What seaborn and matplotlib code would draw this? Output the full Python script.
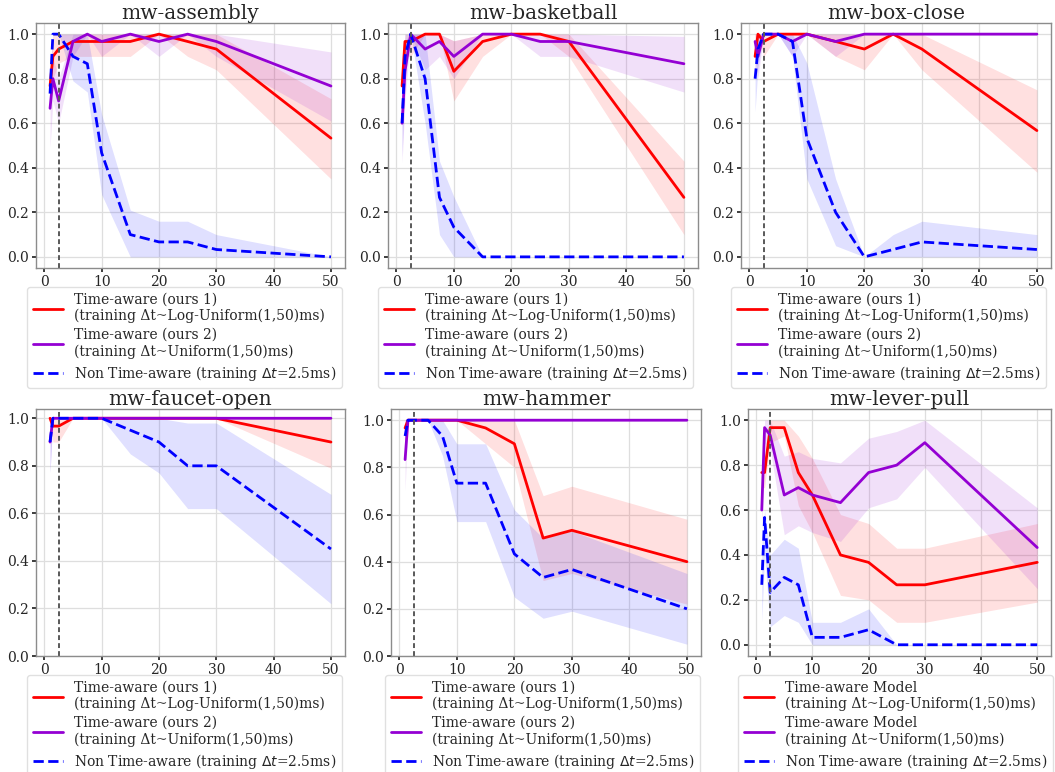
import matplotlib
matplotlib.use("Agg")
import matplotlib.pyplot as plt
import seaborn as sns
import numpy as np

# ---------------- data ----------------
dt = [1, 1.5, 2.5, 5, 7.5, 10, 15, 20, 25, 30, 50]
train_dt = 2.5

tasks = ["mw-assembly", "mw-basketball", "mw-box-close",
         "mw-faucet-open", "mw-hammer", "mw-lever-pull"]

# mw-assembly
assembly_log    = [0.767, 0.9, 0.933, 0.967, 0.967, 0.967, 0.967, 1.0, 0.967, 0.933, 0.533]
assembly_log_lo = [0.70, 0.80, 0.87, 0.90, 0.90, 0.90, 0.90, 1.0, 0.90, 0.84, 0.35]
assembly_log_hi = [0.83, 1.0, 1.0, 1.0, 1.0, 1.0, 1.0, 1.0, 1.0, 1.0, 0.71]
assembly_uni    = [0.667, 0.8, 0.7, 0.967, 1.0, 0.967, 1.0, 0.967, 1.0, 0.967, 0.767]
assembly_uni_lo = [0.49, 0.70, 0.60, 0.90, 1.0, 0.90, 1.0, 0.90, 1.0, 0.90, 0.61]
assembly_uni_hi = [0.80, 0.90, 0.80, 1.0, 1.0, 1.0, 1.0, 1.0, 1.0, 1.0, 0.92]
assembly_nta    = [0.733, 1.0, 1.0, 0.9, 0.867, 0.467, 0.1, 0.067, 0.067, 0.033, 0.0]
assembly_nta_lo = [0.65, 1.0, 1.0, 0.79, 0.74, 0.28, 0.0, 0.0, 0.0, 0.0, 0.0]
assembly_nta_hi = [0.83, 1.0, 1.0, 1.0, 1.0, 0.64, 0.21, 0.16, 0.16, 0.10, 0.0]

# mw-basketball
basketball_log    = [0.767, 0.967, 0.967, 1.0, 1.0, 0.833, 0.967, 1.0, 1.0, 0.967, 0.267]
basketball_log_lo = [0.70, 0.90, 0.90, 1.0, 1.0, 0.70, 0.90, 1.0, 1.0, 0.90, 0.10]
basketball_log_hi = [0.83, 1.0, 1.0, 1.0, 1.0, 0.97, 1.0, 1.0, 1.0, 1.0, 0.43]
basketball_uni    = [0.6, 0.833, 1.0, 0.933, 0.967, 0.9, 1.0, 1.0, 0.967, 0.967, 0.867]
basketball_uni_lo = [0.42, 0.70, 1.0, 0.84, 0.90, 0.80, 1.0, 1.0, 0.90, 0.90, 0.74]
basketball_uni_hi = [0.78, 0.97, 1.0, 1.0, 1.0, 0.97, 1.0, 1.0, 1.0, 1.0, 0.99]
basketball_nta    = [0.6, 0.9, 1.0, 0.8, 0.267, 0.133, 0.0, 0.0, 0.0, 0.0, 0.0]
basketball_nta_lo = [0.45, 0.80, 1.0, 0.60, 0.10, 0.0, 0.0, 0.0, 0.0, 0.0, 0.0]
basketball_nta_hi = [0.75, 1.0, 1.0, 1.0, 0.43, 0.27, 0.0, 0.0, 0.0, 0.0, 0.0]

# mw-box-close
boxclose_log    = [0.9, 1.0, 0.967, 1.0, 1.0, 1.0, 0.967, 0.933, 1.0, 0.933, 0.567]
boxclose_log_lo = [0.80, 1.0, 0.90, 1.0, 1.0, 1.0, 0.90, 0.84, 1.0, 0.84, 0.38]
boxclose_log_hi = [1.0, 1.0, 1.0, 1.0, 1.0, 1.0, 1.0, 1.0, 1.0, 1.0, 0.75]
boxclose_uni    = [0.967, 0.9, 1.0, 1.0, 0.967, 1.0, 0.967, 1.0, 1.0, 1.0, 1.0]
boxclose_uni_lo = [0.90, 0.80, 1.0, 1.0, 0.90, 1.0, 0.90, 1.0, 1.0, 1.0, 1.0]
boxclose_uni_hi = [1.0, 1.0, 1.0, 1.0, 1.0, 1.0, 1.0, 1.0, 1.0, 1.0, 1.0]
boxclose_nta    = [0.8, 0.933, 1.0, 1.0, 0.967, 0.533, 0.2, 0.0, 0.033, 0.067, 0.033]
boxclose_nta_lo = [0.65, 0.85, 1.0, 1.0, 0.90, 0.35, 0.05, 0.0, 0.0, 0.0, 0.0]
boxclose_nta_hi = [0.95, 1.0, 1.0, 1.0, 1.0, 0.87, 0.35, 0.0, 0.10, 0.16, 0.10]

# mw-faucet-open
faucet_log    = [1.0, 0.967, 0.967, 1.0, 1.0, 1.0, 1.0, 1.0, 1.0, 1.0, 0.9]
faucet_log_lo = [1.0, 0.90, 0.90, 1.0, 1.0, 1.0, 1.0, 1.0, 1.0, 1.0, 0.79]
faucet_log_hi = [1.0, 1.0, 1.0, 1.0, 1.0, 1.0, 1.0, 1.0, 1.0, 1.0, 1.0]
faucet_uni    = [0.9, 1.0, 1.0, 1.0, 1.0, 1.0, 1.0, 1.0, 1.0, 1.0, 1.0]
faucet_uni_lo = [0.77, 1.0, 1.0, 1.0, 1.0, 1.0, 1.0, 1.0, 1.0, 1.0, 1.0]
faucet_uni_hi = [1.0, 1.0, 1.0, 1.0, 1.0, 1.0, 1.0, 1.0, 1.0, 1.0, 1.0]
faucet_nta    = [0.9, 1.0, 1.0, 1.0, 1.0, 1.0, 0.95, 0.9, 0.8, 0.8, 0.45]
faucet_nta_lo = [0.77, 1.0, 1.0, 1.0, 1.0, 1.0, 0.85, 0.77, 0.62, 0.62, 0.22]
faucet_nta_hi = [1.0, 1.0, 1.0, 1.0, 1.0, 1.0, 1.0, 1.0, 0.98, 0.98, 0.68]

# mw-hammer
hammer_log    = [0.967, 1.0, 1.0, 1.0, 1.0, 1.0, 0.967, 0.9, 0.5, 0.533, 0.4]
hammer_log_lo = [0.90, 1.0, 1.0, 1.0, 1.0, 1.0, 0.90, 0.80, 0.32, 0.35, 0.22]
hammer_log_hi = [1.0, 1.0, 1.0, 1.0, 1.0, 1.0, 1.0, 1.0, 0.68, 0.72, 0.58]
hammer_uni    = [0.833, 1.0, 1.0, 1.0, 1.0, 1.0, 1.0, 1.0, 1.0, 1.0, 1.0]
hammer_uni_lo = [0.70, 1.0, 1.0, 1.0, 1.0, 1.0, 1.0, 1.0, 1.0, 1.0, 1.0]
hammer_uni_hi = [0.97, 1.0, 1.0, 1.0, 1.0, 1.0, 1.0, 1.0, 1.0, 1.0, 1.0]
hammer_nta    = [0.933, 1.0, 1.0, 1.0, 0.933, 0.733, 0.733, 0.433, 0.333, 0.367, 0.2]
hammer_nta_lo = [0.85, 1.0, 1.0, 1.0, 0.85, 0.57, 0.57, 0.25, 0.16, 0.19, 0.05]
hammer_nta_hi = [1.0, 1.0, 1.0, 1.0, 1.0, 0.90, 0.90, 0.62, 0.50, 0.53, 0.35]

# mw-lever-pull
lever_log    = [0.767, 0.767, 0.967, 0.967, 0.767, 0.667, 0.4, 0.367, 0.267, 0.267, 0.367]
lever_log_lo = [0.70, 0.70, 0.90, 0.93, 0.62, 0.50, 0.22, 0.20, 0.10, 0.10, 0.19]
lever_log_hi = [0.83, 0.83, 1.0, 1.0, 0.93, 0.83, 0.58, 0.54, 0.43, 0.43, 0.54]
lever_uni    = [0.6, 0.967, 0.933, 0.667, 0.7, 0.667, 0.633, 0.767, 0.8, 0.9, 0.433]
lever_uni_lo = [0.50, 0.90, 0.87, 0.49, 0.53, 0.50, 0.46, 0.61, 0.65, 0.79, 0.25]
lever_uni_hi = [0.70, 1.0, 1.0, 0.84, 0.86, 0.83, 0.81, 0.92, 0.95, 1.0, 0.61]
lever_nta    = [0.267, 0.567, 0.233, 0.3, 0.267, 0.033, 0.033, 0.067, 0.0, 0.0, 0.0]
lever_nta_lo = [0.10, 0.40, 0.08, 0.13, 0.10, 0.0, 0.0, 0.0, 0.0, 0.0, 0.0]
lever_nta_hi = [0.45, 0.60, 0.40, 0.47, 0.43, 0.10, 0.10, 0.16, 0.0, 0.0, 0.0]

series = {
    "mw-assembly": [(assembly_log, assembly_log_lo, assembly_log_hi),
                    (assembly_uni, assembly_uni_lo, assembly_uni_hi),
                    (assembly_nta, assembly_nta_lo, assembly_nta_hi)],
    "mw-basketball": [(basketball_log, basketball_log_lo, basketball_log_hi),
                      (basketball_uni, basketball_uni_lo, basketball_uni_hi),
                      (basketball_nta, basketball_nta_lo, basketball_nta_hi)],
    "mw-box-close": [(boxclose_log, boxclose_log_lo, boxclose_log_hi),
                     (boxclose_uni, boxclose_uni_lo, boxclose_uni_hi),
                     (boxclose_nta, boxclose_nta_lo, boxclose_nta_hi)],
    "mw-faucet-open": [(faucet_log, faucet_log_lo, faucet_log_hi),
                       (faucet_uni, faucet_uni_lo, faucet_uni_hi),
                       (faucet_nta, faucet_nta_lo, faucet_nta_hi)],
    "mw-hammer": [(hammer_log, hammer_log_lo, hammer_log_hi),
                  (hammer_uni, hammer_uni_lo, hammer_uni_hi),
                  (hammer_nta, hammer_nta_lo, hammer_nta_hi)],
    "mw-lever-pull": [(lever_log, lever_log_lo, lever_log_hi),
                      (lever_uni, lever_uni_lo, lever_uni_hi),
                      (lever_nta, lever_nta_lo, lever_nta_hi)],
}

labels_ours = ["Time-aware (ours 1)\n(training Δt~Log-Uniform(1,50)ms)",
               "Time-aware (ours 2)\n(training Δt~Uniform(1,50)ms)",
               "Non Time-aware (training $\\Delta t$=2.5ms)"]
labels_model = ["Time-aware Model\n(training Δt~Log-Uniform(1,50)ms)",
                "Time-aware Model\n(training Δt~Uniform(1,50)ms)",
                "Non Time-aware (training $\\Delta t$=2.5ms)"]

# ---------------- style ----------------
sns.set_theme(style="whitegrid", rc={
    "axes.edgecolor": "0.55",
    "axes.linewidth": 1.0,
    "grid.color": "0.87",
    "grid.linewidth": 0.9,
    "xtick.bottom": True,
    "ytick.left": True,
    "xtick.color": "0.15",
    "ytick.color": "0.15",
    "xtick.major.size": 3,
    "ytick.major.size": 3,
    "xtick.major.pad": 2,
    "ytick.major.pad": 2,
})
plt.rcParams["font.family"] = ["DejaVu Serif"]
plt.rcParams["mathtext.fontset"] = "dejavusans"

colors = ["#ff0000", "#9400d3", "#0000ff"]
styles = ["-", "-", "--"]

W, H = 1055, 772
fig = plt.figure(figsize=(W / 100, H / 100), dpi=100)

# axes rectangles in pixels: left, top, right, bottom
rects = [(36, 23, 345, 268), (388, 23, 698, 268), (741, 23, 1051, 268),
         (36, 409, 345, 656), (391, 409, 701, 656), (748, 409, 1051, 656)]
legend_pos = [(27, 287), (378, 287), (731, 287),
              (27, 675), (385, 675), (738, 675)]
ybottom = [None, None, None, 0, 0, None]

for i, task in enumerate(tasks):
    l, t, r, b = rects[i]
    ax = fig.add_axes([l / W, 1 - b / H, (r - l) / W, (b - t) / H])
    labels = labels_model if task == "mw-lever-pull" else labels_ours
    for (mean, lo, hi), c, ls, lab in zip(series[task], colors, styles, labels):
        ax.fill_between(dt, lo, hi, color=c, alpha=0.12, linewidth=0)
        sns.lineplot(x=dt, y=mean, ax=ax, color=c, linestyle=ls,
                     linewidth=2.0, label=lab)
    ax.axvline(train_dt, color="0.35", linestyle=(0, (2.5, 1.6)), linewidth=1.4)
    ax.set_title(task, fontsize=14.5, pad=3)
    ax.set_xticks([0, 10, 20, 30, 40, 50])
    ax.set_yticks([0.0, 0.2, 0.4, 0.6, 0.8, 1.0])
    ax.tick_params(labelsize=10)
    if ybottom[i] is not None:
        ax.set_ylim(bottom=ybottom[i])
    lx, ly = legend_pos[i]
    handles, labs = ax.get_legend_handles_labels()
    ax.legend(handles, labs, loc="upper left",
              bbox_to_anchor=(lx / W, 1 - ly / H),
              bbox_transform=fig.transFigure, borderaxespad=0,
              fontsize=10, handlelength=2.2, labelspacing=0.35,
              frameon=True, framealpha=0.8, edgecolor="0.85")

fig.savefig("out.png", dpi=100)
